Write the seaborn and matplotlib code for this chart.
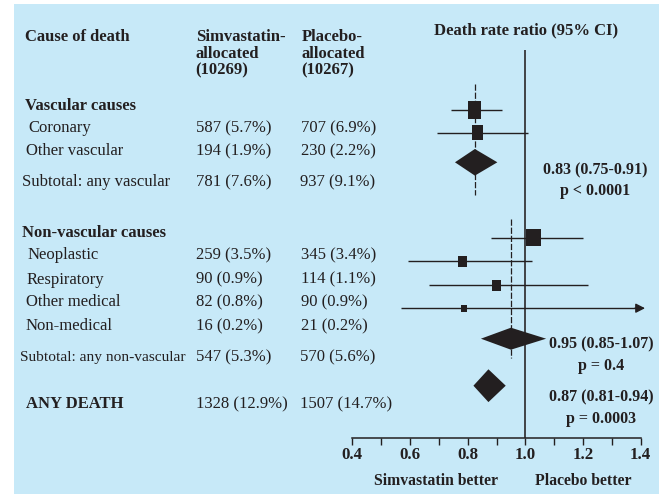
import numpy as np
import pandas as pd
import matplotlib
matplotlib.use("Agg")
import matplotlib.pyplot as plt
from matplotlib.path import Path
import seaborn as sns

# individual causes
causes = ["Coronary", "Other vascular", "Neoplastic", "Respiratory", "Other medical", "Non-medical"]
simva = ["587 (5.7%)", "194 (1.9%)", "259 (3.5%)", "90 (0.9%)", "82 (0.8%)", "16 (0.2%)"]
placebo = ["707 (6.9%)", "230 (2.2%)", "345 (3.4%)", "114 (1.1%)", "90 (0.9%)", "21 (0.2%)"]
ratio = [0.824, 0.833, 1.028, 0.782, 0.900, 0.786]
ci_lo = [0.741, 0.693, 0.881, 0.594, 0.667, 0.569]
ci_hi = [0.918, 1.010, 1.200, 1.024, 1.216, 1.415]

# subtotals
subtotals = ["Subtotal: any vascular", "Subtotal: any non-vascular", "ANY DEATH"]
sub_simva = ["781 (7.6%)", "547 (5.3%)", "1328 (12.9%)"]
sub_placebo = ["937 (9.1%)", "570 (5.6%)", "1507 (14.7%)"]
sub_ratio = [0.825, 0.950, 0.872]
sub_lo = [0.756, 0.846, 0.820]
sub_hi = [0.903, 1.072, 0.932]
sub_ci_text = ["0.83 (0.75-0.91)", "0.95 (0.85-1.07)", "0.87 (0.81-0.94)"]
sub_p_text = ["p < 0.0001", "p = 0.4", "p = 0.0003"]

ticks = [0.4, 0.5, 0.6, 0.7, 0.8, 0.9, 1.0, 1.1, 1.2, 1.3, 1.4]
tick_labels = ["0.4", "", "0.6", "", "0.8", "", "1.0", "", "1.2", "", "1.4"]

# layout, pixel rows from the top of the picture
TY = 2  # text nudge
label_x = [28, 25.7, 28, 27, 26, 26]
text_y = [126, 149.3, 253, 277.5, 300, 324]
mark_y = [110, 132.6, 237.8, 261.3, 285.2, 308.2]
box_w = [12.4, 10.7, 15, 9, 9, 6]
box_h = [17.7, 15, 17, 11, 11, 7]
sub_x = [21.7, 20, 25.7]
sub_size = [12, 11.1, 12]
sub_text_y = [180, 355, 402]
sub_mark_y = [162.3, 338.7, 385.7]
sub_half_h = [13.3, 11, 16.4]
dash_span = [(84, 195), (219, 358)]
stat_x = [595, 601, 601]
stat_y = [(168, 189), (342.7, 364), (395.7, 416.7)]

ink = "#231f20"
bgcol = "#c7e9f8"

sns.set_style("white")
plt.rcParams["font.family"] = ["Liberation Serif", "DejaVu Serif"]

W, H = 659, 494
fig = plt.figure(figsize=(W / 100, H / 100), dpi=100)
fig.patch.set_facecolor("white")

# background panel in pixel coordinates
bg = fig.add_axes([14 / W, 0, (W - 14) / W, (H - 4) / H])
bg.set_facecolor(bgcol)
bg.set_xlim(14, W)
bg.set_ylim(H, 4)
bg.set_xticks([])
bg.set_yticks([])
for s in bg.spines.values():
    s.set_visible(False)

fs = 12
bold = dict(fontsize=fs, fontweight="bold", color=ink, va="center")
reg = dict(fontsize=fs, color=ink, va="center")

bg.text(25, 35 + TY, "Cause of death", **bold)
for i, line in enumerate(["Simvastatin-", "allocated", "(10269)"]):
    bg.text(195.7, 35 + TY + 16.7 * i, line, **bold)
for i, line in enumerate(["Placebo-", "allocated", "(10267)"]):
    bg.text(301.5, 35 + TY + 16.7 * i, line, **bold)
bg.text(526.5, 28 + TY, "Death rate ratio (95% CI)", ha="center", **bold)
bg.text(25, 104 + TY, "Vascular causes", **bold)
bg.text(22, 231 + TY, "Non-vascular causes", **bold)

for i in range(len(causes)):
    bg.text(label_x[i], text_y[i] + TY, causes[i], **reg)
    bg.text(196, text_y[i] + TY, simva[i], **reg)
    bg.text(301, text_y[i] + TY, placebo[i], **reg)

for i in range(len(subtotals)):
    kw = dict(bold if i == 2 else reg)
    kw["fontsize"] = sub_size[i]
    bg.text(sub_x[i], sub_text_y[i] + TY, subtotals[i], **kw)
    bg.text(196, sub_text_y[i] + TY, sub_simva[i], **reg)
    bg.text(300.5, sub_text_y[i] + TY, sub_placebo[i], **reg)
    bg.text(stat_x[i], stat_y[i][0] + TY, sub_ci_text[i], ha="center", fontsize=11.5,
            fontweight="bold", color=ink, va="center")
    bg.text(stat_x[i], stat_y[i][1] + TY, sub_p_text[i], ha="center", fontsize=11.5,
            fontweight="bold", color=ink, va="center")

bg.text(435.8, 479.3 + TY, "Simvastatin better", ha="center", fontsize=11.3,
        fontweight="bold", color=ink, va="center")
bg.text(583, 479.3 + TY, "Placebo better", ha="center", fontsize=11.3,
        fontweight="bold", color=ink, va="center")

# forest panel: x in ratio units, y in pixel rows
x0, x1 = 352.3, 640.7
ytop, ybot = 40, 437.7
ax = fig.add_axes([x0 / W, (H - ybot) / H, (x1 - x0) / W, (ybot - ytop) / H])
ax.patch.set_alpha(0)

# reference line at 1.0
ax.vlines(1.0, 50, ybot, color=ink, lw=1.15, zorder=2)

# dashed lines at subtotal estimates
for j in range(2):
    ax.vlines(sub_ratio[j], dash_span[j][0], dash_span[j][1], color=ink, lw=0.9,
              linestyles=(0, (5, 1.5)), zorder=1)

# confidence intervals
for i in range(len(causes)):
    if ci_hi[i] > 1.4:
        ax.hlines(mark_y[i], ci_lo[i], 1.39, color=ink, lw=1.0, zorder=2, clip_on=False)
        ax.annotate("", xy=(ci_hi[i], mark_y[i]), xytext=(1.38, mark_y[i]),
                    arrowprops=dict(arrowstyle="-|>,head_length=0.55,head_width=0.28",
                                    color=ink, lw=1.0, shrinkA=0, shrinkB=0),
                    annotation_clip=False)
    else:
        ax.hlines(mark_y[i], ci_lo[i], ci_hi[i], color=ink, lw=1.0, zorder=2, clip_on=False)

# boxes: one rectangular marker per row
df = pd.DataFrame({"cause": causes, "ratio": ratio, "y": mark_y})
markers = {}
sizes = {}
for i, c in enumerate(causes):
    hw, hh = box_w[i] / 2, box_h[i] / 2
    markers[c] = Path([(-hw, -hh), (hw, -hh), (hw, hh), (-hw, hh), (-hw, -hh)], closed=True)
    sizes[c] = (max(box_w[i], box_h[i]) * 0.72) ** 2
sns.scatterplot(data=df, x="ratio", y="y", style="cause", markers=markers,
                size="cause", sizes=sizes, color=ink, linewidth=0, legend=False,
                ax=ax, zorder=3, clip_on=False)

# diamonds for subtotals
for j in range(len(subtotals)):
    yy = sub_mark_y[j]
    hh = sub_half_h[j]
    ax.fill([sub_lo[j], sub_ratio[j], sub_hi[j], sub_ratio[j]],
            [yy, yy - hh, yy, yy + hh], color=ink, lw=0, zorder=3, clip_on=False)

ax.set_xlim(0.4, 1.4)
ax.set_ylim(ybot, ytop)
ax.set_xlabel("")
ax.set_ylabel("")
ax.set_yticks([])
ax.set_xticks(ticks)
ax.set_xticklabels(tick_labels)
ax.tick_params(axis="x", direction="out", length=5.2, width=1.0, color=ink, pad=1.5,
               bottom=True, labelsize=12.2, labelcolor=ink)
for lbl in ax.get_xticklabels():
    lbl.set_fontweight("bold")
for side in ["top", "left", "right"]:
    ax.spines[side].set_visible(False)
ax.spines["bottom"].set_color(ink)
ax.spines["bottom"].set_linewidth(1.1)

fig.savefig("out.png", dpi=100)
